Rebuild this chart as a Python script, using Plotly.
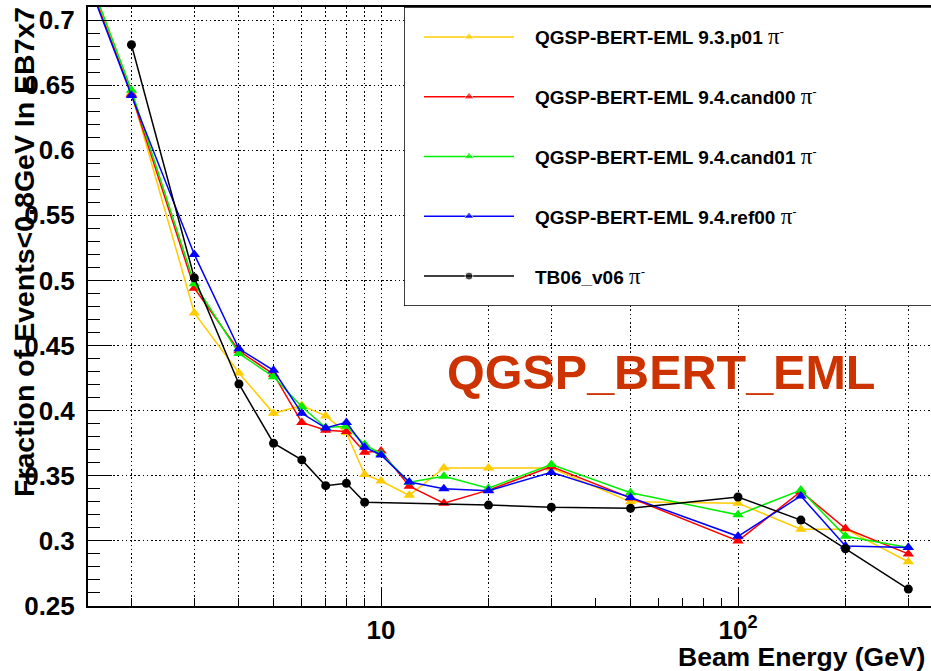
import plotly.graph_objects as go

# Beam energies (GeV) for the simulated samples and for the test-beam data
energy_mc = [1, 2, 3, 4, 5, 6, 7, 8, 9, 10, 12, 15, 20, 30, 50, 100, 150, 200, 300]
energy_tb = [2, 3, 4, 5, 6, 7, 8, 9, 20, 30, 50, 100, 150, 200, 300]

# Fraction of events with E < 0.8 GeV in EB7x7
frac_93p01 = [0.862, 0.644, 0.475, 0.429, 0.398, 0.404, 0.396, 0.383, 0.351, 0.346,
              0.335, 0.356, 0.356, 0.356, 0.330, 0.329, 0.309, 0.309, 0.284]
frac_cand00 = [0.860, 0.643, 0.494, 0.446, 0.428, 0.391, 0.385, 0.384, 0.368, 0.369,
               0.342, 0.329, 0.339, 0.357, 0.333, 0.300, 0.338, 0.3095, 0.290]
frac_cand01 = [0.866, 0.646, 0.4975, 0.444, 0.426, 0.403, 0.387, 0.388, 0.374, 0.367,
               0.345, 0.3496, 0.3405, 0.3587, 0.337, 0.320, 0.339, 0.3035, 0.295]
frac_ref00 = [0.858, 0.642, 0.520, 0.4475, 0.431, 0.398, 0.3867, 0.391, 0.372, 0.366,
              0.3452, 0.340, 0.3385, 0.3526, 0.3334, 0.3035, 0.3345, 0.296, 0.295]
frac_tb06 = [0.681, 0.502, 0.4205, 0.375, 0.3622, 0.3424, 0.3442, 0.3297, 0.3275,
             0.3258, 0.325, 0.3337, 0.316, 0.294, 0.263]

series_names = [
    "QGSP-BERT-EML 9.3.p01",
    "QGSP-BERT-EML 9.4.cand00",
    "QGSP-BERT-EML 9.4.cand01",
    "QGSP-BERT-EML 9.4.ref00",
    "TB06_v06",
]
series_colors = ["#FFCC00", "#FF0000", "#00EE00", "#0000FF", "#000000"]

# Axis labelling
y_tick_vals = [0.25, 0.30, 0.35, 0.40, 0.45, 0.50, 0.55, 0.60, 0.65, 0.70]
y_tick_text = ["0.25", "0.3", "0.35", "0.4", "0.45", "0.5", "0.55", "0.6", "0.65", "0.7"]
x_tick_vals = [10, 100]
x_tick_text = ["10", "10<sup>2</sup>"]
x_minor_vals = [2, 3, 4, 5, 6, 7, 8, 9, 20, 30, 40, 50, 60, 70, 80, 90, 200, 300]
x_grid_vals = [2, 3, 4, 5, 6, 7, 8, 9, 10, 20, 30, 50, 100, 200, 300]

FONT = "Liberation Sans, Arial, Helvetica, sans-serif"
W, H = 931, 671
ML, MR, MT, MB = 88, 0, 7, 65
PW, PH = W - ML - MR, H - MT - MB

X_RANGE = [0.1793, 2.5406]   # log10 of 1.51 .. 347 GeV
Y_RANGE = [0.25, 0.71]

fig = go.Figure()

mc_series = [frac_93p01, frac_cand00, frac_cand01, frac_ref00]
for name, col, vals in zip(series_names[:4], series_colors[:4], mc_series):
    fig.add_trace(go.Scatter(
        x=energy_mc, y=vals, name=name, mode="lines+markers",
        line=dict(color=col, width=1.5),
        marker=dict(symbol="triangle-up", size=10, color=col),
        showlegend=False, cliponaxis=True,
    ))

# test-beam data on the overlaid axis (same scale), drawn on top
fig.add_trace(go.Scatter(
    x=energy_tb, y=frac_tb06, name=series_names[4], mode="lines+markers",
    xaxis="x2", yaxis="y",
    line=dict(color=series_colors[4], width=1.5),
    marker=dict(symbol="circle", size=9, color=series_colors[4]),
    showlegend=False,
))

# ---- legend drawn in its own small frame (pixel units inside the box)
LEG_X0, LEG_Y0, LEG_Y1 = 404, 7, 306
leg_w = W - LEG_X0
leg_dom_x = [(LEG_X0 - ML) / PW, 1.0]
leg_dom_y = [(H - MB - LEG_Y1) / PH, 1.0]
leg_symbols = ["triangle-up"] * 4 + ["circle"]

fig.add_shape(
    type="rect", xref="x3", yref="y3",
    x0=0, x1=leg_w + 20, y0=5, y1=0,
    line=dict(color="black", width=1.5), fillcolor="white", layer="between",
)

for i, (name, col, sym) in enumerate(zip(series_names, series_colors, leg_symbols)):
    fig.add_trace(go.Scatter(
        x=[20, 65, 110], y=[i + 0.5] * 3, mode="lines+markers",
        xaxis="x3", yaxis="y3", showlegend=False, hoverinfo="skip",
        line=dict(color=col, width=1.5),
        marker=dict(symbol=sym, size=[0, 8 if sym == "circle" else 9, 0], color=col),
    ))
    fig.add_annotation(
        x=129, y=i + 0.5, xref="x3", yref="y3", xanchor="left", yanchor="middle",
        showarrow=False,
        text=(f"<b>{name}</b> <span style=\"font-family:'Liberation Serif',serif;"
              "font-size:23px\">π</span><sup>-</sup>"),
        font=dict(family=FONT, size=19, color="black"),
    )

# ---- model label
fig.add_annotation(
    x=(661 - ML) / PW, y=(H - MB - 372) / PH, xref="paper", yref="paper",
    xanchor="center", yanchor="middle", showarrow=False,
    text="<b>QGSP_BERT_EML</b>",
    font=dict(family=FONT, size=48.5, color="#CC3300"),
)

# ---- axis titles (ROOT-style placement: aligned to the axis ends)
fig.add_annotation(
    x=0, y=1, xref="paper", yref="paper", xanchor="center", yanchor="top",
    xshift=-(ML - 24), yshift=2, textangle=-90, showarrow=False,
    text="<b>Fraction of Events&lt;0.8GeV In EB7x7</b>",
    font=dict(family=FONT, size=28.5, color="black"),
)
fig.add_annotation(
    x=1, y=0, xref="paper", yref="paper", xanchor="right", yanchor="middle",
    xshift=-4, yshift=-51, showarrow=False,
    text="<b>Beam Energy (GeV)</b>",
    font=dict(family=FONT, size=26.5, color="black"),
)

grid_dash = "1.6px,2.6px"
fig.update_layout(
    width=W, height=H,
    margin=dict(l=ML, r=MR, t=MT, b=MB, pad=0),
    paper_bgcolor="white", plot_bgcolor="white",
    showlegend=False,
    font=dict(family=FONT, color="black"),
    xaxis=dict(
        type="log", range=X_RANGE, showgrid=False, zeroline=False,
        showline=True, linecolor="black", linewidth=2, mirror=True,
        tickmode="array", tickvals=x_tick_vals, ticktext=x_tick_text,
        ticks="inside", ticklen=18, tickwidth=1.2, tickcolor="black",
        tickfont=dict(family=FONT, size=26, color="black", weight="bold"),
        ticklabelstandoff=0,
        minor=dict(tickmode="array", tickvals=x_minor_vals, ticks="inside",
                   ticklen=8, tickwidth=1.2, tickcolor="black", showgrid=False),
    ),
    xaxis2=dict(
        type="log", range=X_RANGE, overlaying="x", side="bottom",
        tickmode="array", tickvals=x_grid_vals, showticklabels=False, ticks="",
        showgrid=True, gridcolor="black", gridwidth=1.3, griddash=grid_dash,
        showline=False, zeroline=False,
    ),
    yaxis=dict(
        range=Y_RANGE, zeroline=False,
        showline=True, linecolor="black", linewidth=2, mirror=False,
        tickmode="array", tickvals=y_tick_vals, ticktext=y_tick_text,
        ticks="inside", ticklen=24, tickwidth=1.2, tickcolor="black",
        tickfont=dict(family=FONT, size=26, color="black", weight="bold"),
        ticklabelstandoff=6,
        showgrid=True, gridcolor="black", gridwidth=1.3, griddash=grid_dash,
        minor=dict(tickmode="linear", tick0=0.25, dtick=0.01, ticks="inside",
                   ticklen=12, tickwidth=1.2, tickcolor="black", showgrid=False),
    ),
    xaxis3=dict(domain=leg_dom_x, range=[0, leg_w], visible=False, anchor="y3",
                fixedrange=True),
    yaxis3=dict(domain=leg_dom_y, range=[5, 0], visible=False, anchor="x3",
                fixedrange=True),
)

fig.write_html("out.html")
